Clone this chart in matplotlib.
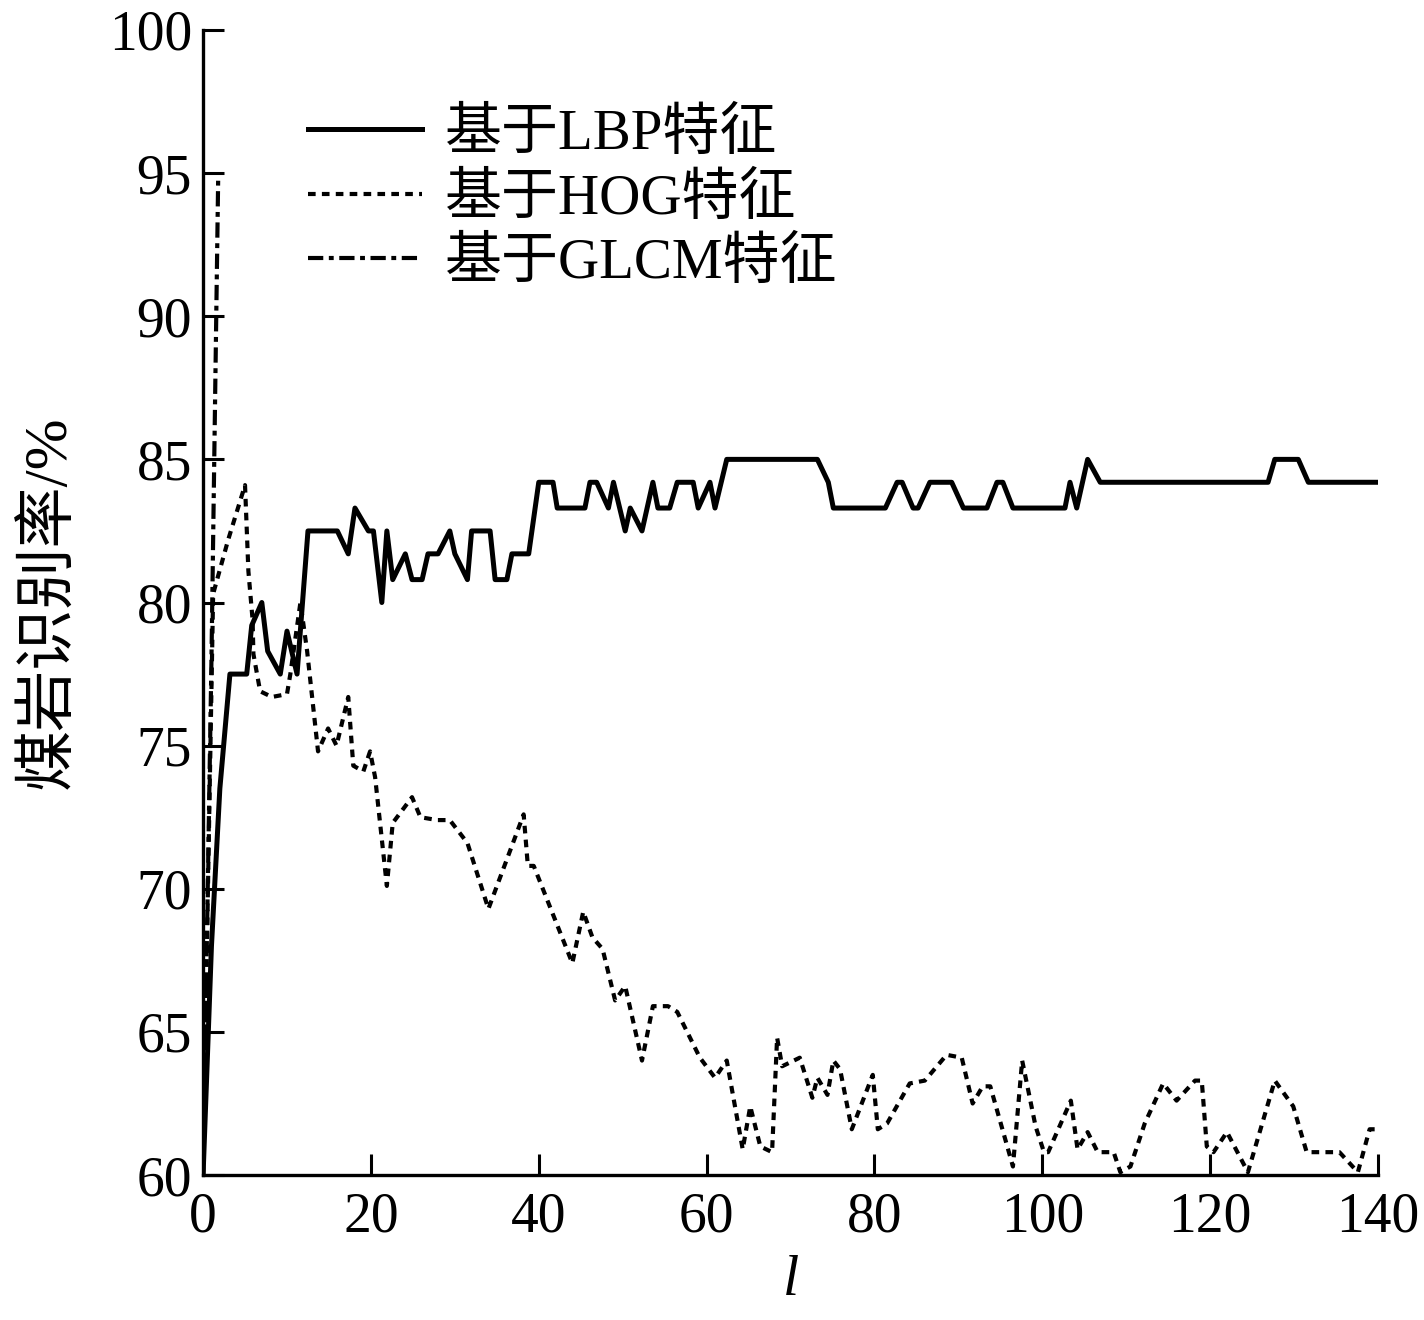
import matplotlib
matplotlib.use('Agg')
import matplotlib.pyplot as plt

plt.rcParams['font.family'] = ['Liberation Serif', 'Noto Sans CJK SC']
plt.rcParams['lines.scale_dashes'] = False

# 基于LBP特征
lbp_x = [0, 1, 2, 3.2, 5.2, 5.8, 7.0, 7.7, 9.2, 10.0, 11.2, 12.5, 16.0, 17.3, 18.1,
         19.7, 20.3, 21.3, 21.9, 22.6, 24.1, 24.9, 26.1, 26.8, 28.0, 29.4, 30.0, 31.5,
         32.0, 34.2, 34.8, 36.2, 36.8, 38.8, 40.0, 41.7, 42.2, 45.5, 46.1, 46.9, 48.3,
         48.9, 50.3, 50.9, 52.3, 53.6, 54.2, 55.6, 56.5, 58.4, 59.0, 60.4, 61.0, 62.4,
         73.2, 74.5, 75.1, 81.3, 82.7, 83.3, 84.6, 85.2, 86.6, 89.2, 90.6, 93.4, 94.6,
         95.3, 96.5, 102.7, 103.3, 104.1, 105.4, 106.9, 126.9, 127.7, 130.5, 131.7, 140]
lbp_y = [60, 68, 73.5, 77.5, 77.5, 79.2, 80.0, 78.3, 77.5, 79.0, 77.5, 82.5, 82.5, 81.7, 83.3,
         82.5, 82.5, 80.0, 82.5, 80.8, 81.7, 80.8, 80.8, 81.7, 81.7, 82.5, 81.7, 80.8,
         82.5, 82.5, 80.8, 80.8, 81.7, 81.7, 84.2, 84.2, 83.3, 83.3, 84.2, 84.2, 83.3,
         84.2, 82.5, 83.3, 82.5, 84.2, 83.3, 83.3, 84.2, 84.2, 83.3, 84.2, 83.3, 85.0,
         85.0, 84.2, 83.3, 83.3, 84.2, 84.2, 83.3, 83.3, 84.2, 84.2, 83.3, 83.3, 84.2,
         84.2, 83.3, 83.3, 84.2, 83.3, 85.0, 84.2, 84.2, 85.0, 85.0, 84.2, 84.2]

# 基于HOG特征
hog_x = [0, 0.7, 1.2, 3.0, 5.0, 5.4, 5.9, 6.0, 6.8, 8.2, 10.0, 10.4, 11.6, 12.4, 13.7,
         14.9, 15.9, 17.3, 17.9, 19.1, 19.9, 20.5, 21.9, 22.6, 24.9, 25.9, 27.9, 29.4,
         31.5, 34.0, 38.2, 38.7, 39.4, 44.0, 45.3, 46.4, 47.6, 49.1, 50.3, 52.3, 53.6,
         55.4, 56.5, 59.2, 61.0, 62.4, 64.3, 65.2, 66.4, 67.8, 68.4, 69.0, 71.1, 72.6,
         73.2, 74.4, 75.1, 75.9, 77.3, 79.8, 80.4, 81.5, 84.2, 86.0, 88.6, 90.4, 91.7,
         92.9, 93.8, 96.5, 97.6, 99.2, 100.2, 100.7, 103.4, 104.2, 105.4, 106.6, 108.5,
         109.3, 110.5, 112.2, 114.4, 116.0, 118.2, 119.0, 119.6, 120.4, 122.0, 124.5,
         127.7, 129.9, 131.5, 135.4, 137.6, 139.0, 139.6]
hog_y = [60, 72, 80.3, 82.2, 84.1, 81.1, 79.4, 78.2, 76.9, 76.7, 76.8, 77.5, 80.0, 78.3, 74.8,
         75.6, 75.0, 76.7, 74.3, 74.1, 74.8, 73.9, 70.1, 72.3, 73.2, 72.5, 72.4, 72.4,
         71.6, 69.3, 72.6, 70.8, 70.8, 67.4, 69.2, 68.3, 67.9, 66.1, 66.6, 64.0, 65.9,
         65.9, 65.7, 64.1, 63.4, 64.0, 60.9, 62.4, 61.0, 60.8, 64.8, 63.8, 64.1, 62.7,
         63.4, 62.8, 64.0, 63.7, 61.6, 63.5, 61.6, 61.8, 63.2, 63.3, 64.2, 64.1, 62.5,
         63.1, 63.1, 60.3, 64.0, 61.7, 60.8, 60.8, 62.6, 60.9, 61.5, 60.8, 60.8,
         60.1, 60.3, 61.8, 63.2, 62.6, 63.3, 63.3, 61.0, 60.8, 61.5, 60.1,
         63.3, 62.4, 60.8, 60.8, 60.1, 61.6, 61.6]

# 基于GLCM特征
glcm_x = [0, 1.0, 1.8]
glcm_y = [60, 78, 94.8]

labels = ['基于LBP特征', '基于HOG特征', '基于GLCM特征']
x_ticks = [0, 20, 40, 60, 80, 100, 120, 140]
y_ticks = [60, 65, 70, 75, 80, 85, 90, 95, 100]

fig = plt.figure(figsize=(14.24, 13.2), dpi=100)
ax = fig.add_axes([0.1426, 0.1098, 0.8251, 0.8675])

ax.plot(lbp_x, lbp_y, color='black', linewidth=3.6, label=labels[0])
ax.plot(hog_x, hog_y, color='black', linewidth=3.0, dashes=(5.5, 4.5), label=labels[1])
ax.plot(glcm_x, glcm_y, color='black', linewidth=3.0, dashes=(11, 4, 3.5, 4), label=labels[2])

ax.set_xlim(0, 140)
ax.set_ylim(60, 100)
ax.set_xticks(x_ticks)
ax.set_yticks(y_ticks)
ax.tick_params(direction='in', length=15, width=2.2, labelsize=40, pad=8)
ax.tick_params(axis='x', pad=12)
for s in ['top', 'right']:
    ax.spines[s].set_visible(False)
for s in ['left', 'bottom']:
    ax.spines[s].set_linewidth(2.4)

ax.set_xlabel('l', fontsize=42, style='italic', labelpad=8)
ax.set_ylabel('煤岩识别率/%', fontsize=44, labelpad=22)

ax.legend(loc='upper left', bbox_to_anchor=(0.07, 0.952), frameon=False, fontsize=41,
          handlelength=2.0, handletextpad=0.4, labelspacing=0.2, borderaxespad=0)

fig.savefig('out.png', dpi=100)
